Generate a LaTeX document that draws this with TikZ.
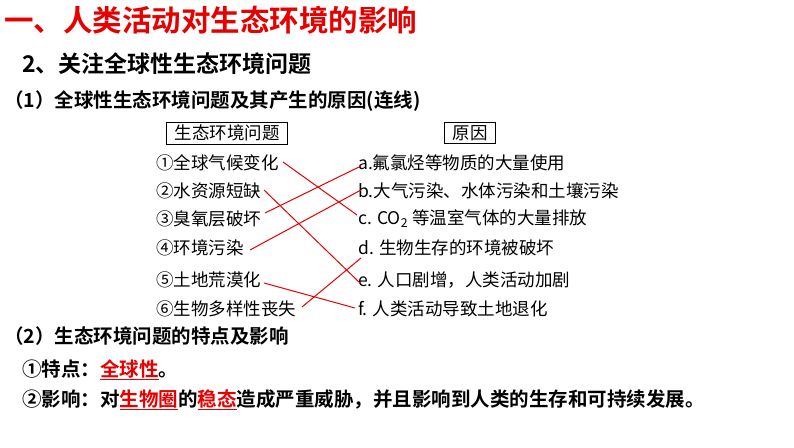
\documentclass[tikz,border=0pt]{standalone}
\usepackage{fontspec}
\setmainfont{Noto Sans CJK SC}
\newfontfamily\cjkb{Noto Sans CJK SC Bold}
\definecolor{tred}{RGB}{230,0,0}
\begin{document}
\begin{tikzpicture}[x=1pt,y=-1pt,
  t/.style={anchor=west,inner sep=0pt,font=\fontsize{17.5}{17.5}\selectfont},
  h/.style={anchor=west,inner sep=0pt,font=\cjkb\fontsize{19.5}{19.5}\selectfont},
  bx/.style={draw,line width=0.6pt,inner xsep=8pt,inner ysep=3pt,font=\fontsize{17.5}{17.5}\selectfont},
  ln/.style={draw=tred,line width=1pt}]
\useasboundingbox (0,0) rectangle (794,447);
\node[anchor=west,inner sep=0pt,text=tred,font=\cjkb\fontsize{29.5}{29.5}\selectfont] (title) at (4,20) {一、人类活动对生态环境的影响};
\node[anchor=west,inner sep=0pt,font=\cjkb\fontsize{23}{23}\selectfont] (s2) at (22,64) {2、关注全球性生态环境问题};
\node[h] (s21) at (4,101) {（1）全球性生态环境问题及其产生的原因(连线)};
\node[bx] (bx1) at (227,133) {生态环境问题};
\node[bx] (bx2) at (470,133) {原因};
\node[t] (p1) at (156,163) {①全球气候变化};
\node[t] (p2) at (156,191) {②水资源短缺};
\node[t] (p3) at (156,219) {③臭氧层破坏};
\node[t] (p4) at (156,248) {④环境污染};
\node[t] (p5) at (156,280) {⑤土地荒漠化};
\node[t] (p6) at (156,309) {⑥生物多样性丧失};
\node[t] (ca) at (358,163) {a.氟氯烃等物质的大量使用};
\node[t] (cb) at (358,191) {b.大气污染、水体污染和土壤污染};
\node[t] (cc) at (358,219) {c. CO\textsubscript{2} 等温室气体的大量排放};
\node[t] (cd) at (358,248) {d. 生物生存的环境被破坏};
\node[t] (ce) at (358,280) {e. 人口剧增，人类活动加剧};
\node[t] (cf) at (358,309) {f. 人类活动导致土地退化};
\coordinate (q1) at (283,162); \coordinate (r1) at (357,215);
\coordinate (q2) at (264,190); \coordinate (r2) at (360,283);
\coordinate (q3) at (265,213); \coordinate (r3) at (361,166);
\coordinate (q4) at (250,250); \coordinate (r4) at (361,190);
\coordinate (q5) at (264,283); \coordinate (r5) at (355,308);
\coordinate (q6) at (302,307); \coordinate (r6) at (361,258);
\foreach \i in {1,...,6} \draw[ln] (q\i) -- (r\i);
\node[h] (s22) at (4,336) {（2）生态环境问题的特点及影响};
\node[h] (f1) at (22,370) {①特点：\textcolor{tred}{\underline{全球性}}。};
\node[h] (f2) at (22,400) {②影响：对\textcolor{tred}{\underline{生物圈}}的\textcolor{tred}{\underline{稳态}}造成严重威胁，并且影响到人类的生存和可持续发展。};
\end{tikzpicture}
\end{document}
